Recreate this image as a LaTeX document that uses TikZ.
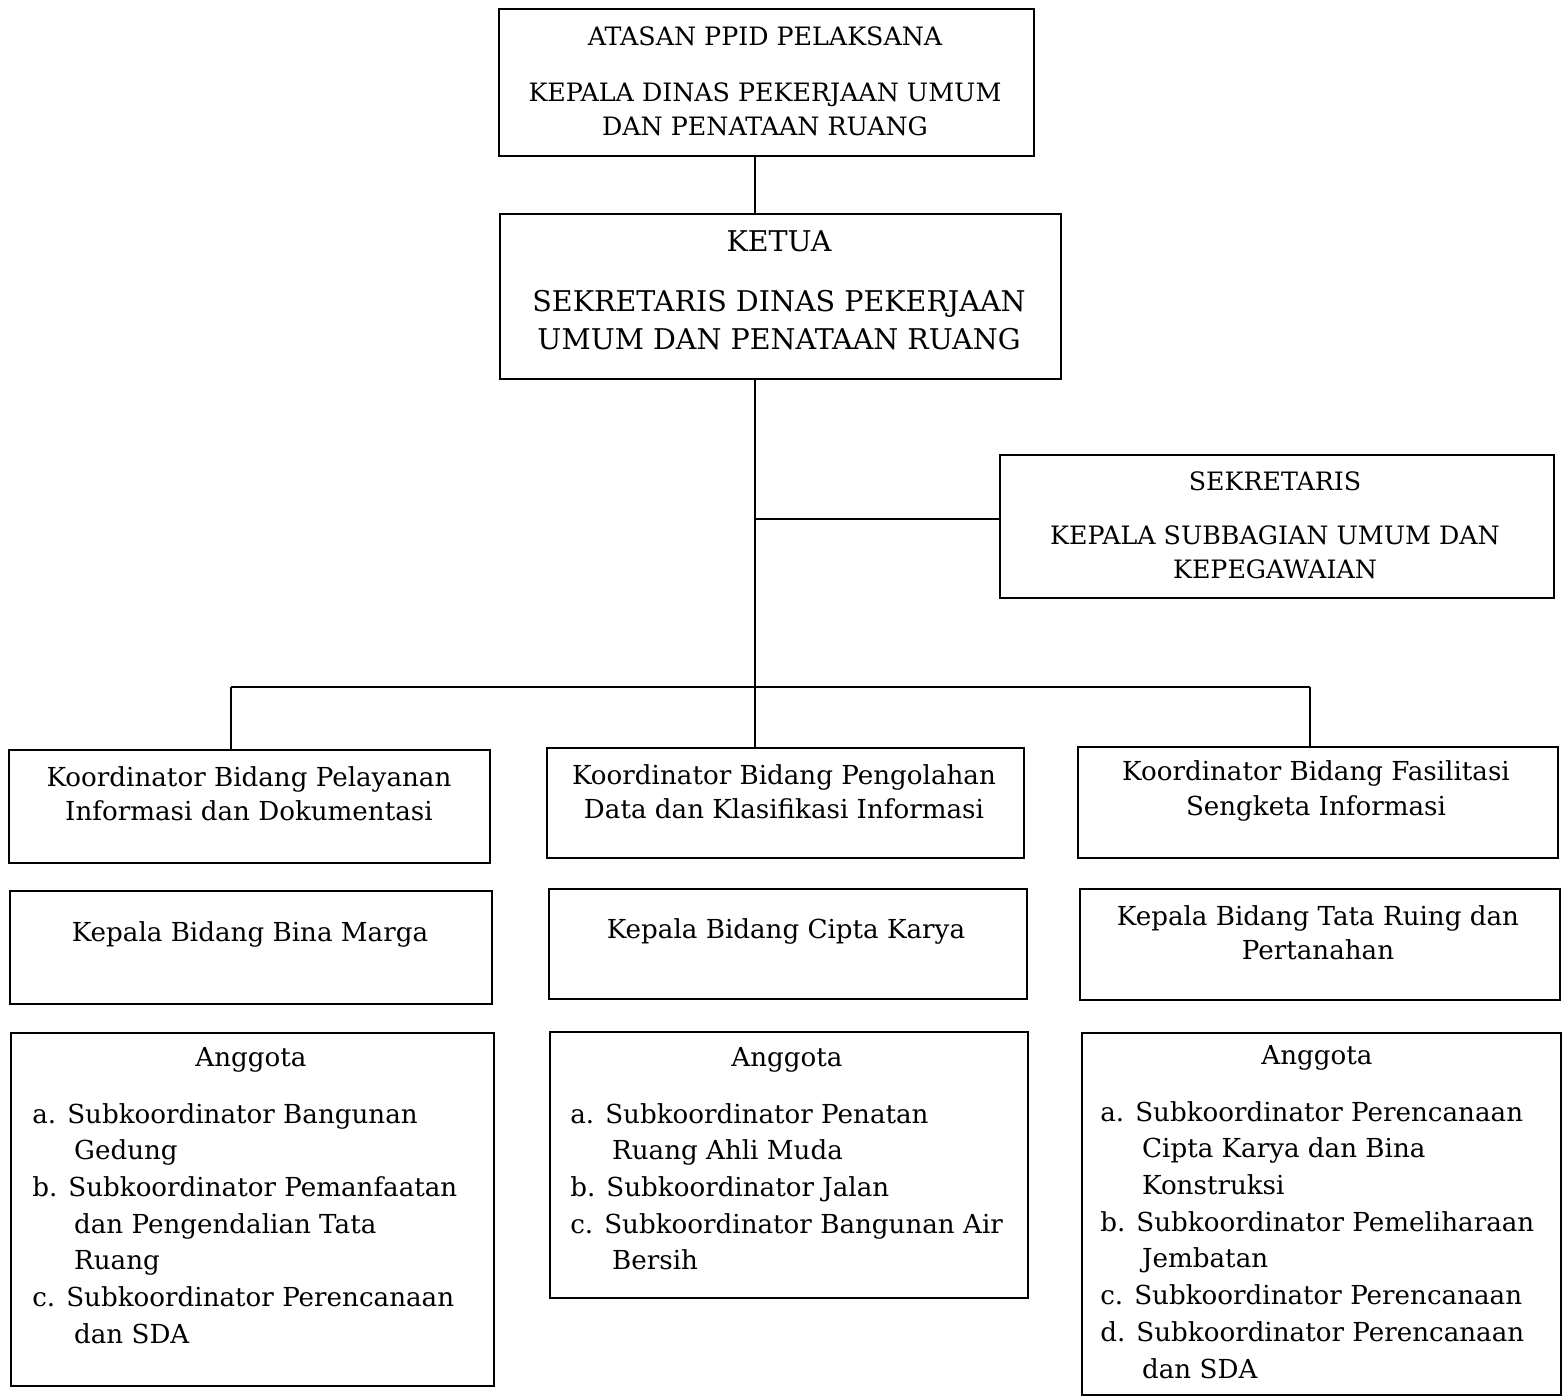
\documentclass[tikz,border=0pt]{standalone}
\usepackage{fontspec}
\setmainfont{DejaVu Serif}
\usetikzlibrary{positioning}

\tikzset{
  orgbox/.style 2 args={draw, line width=1.2pt, minimum width=#1, minimum height=#2, anchor=north west, inner sep=0pt},
  captxt/.style={align=center, font=\fontsize{18}{24}\selectfont, inner sep=0pt},
  txt/.style={align=center, font=\fontsize{18.6}{24.5}\selectfont, inner sep=0pt},
  bigtxt/.style={align=center, font=\fontsize{20.3}{27}\selectfont, inner sep=0pt},
  listtxt/.style={align=left, anchor=north west, font=\fontsize{18.6}{26.1}\selectfont, inner sep=0pt},
  link/.style={line width=1.2pt}
}
\newcommand{\contind}{\hspace*{1.6em}}

\begin{document}
\begin{tikzpicture}[x=0.025cm,y=-0.025cm]
      \useasboundingbox (0,0) rectangle (1564,1397);
      % boxes
      \node[orgbox={13.375cm}{3.675cm}] (atasan) at (498,8) {};
      \node[orgbox={14.025cm}{4.125cm}] (ketua) at (499,213) {};
      \node[orgbox={13.85cm}{3.575cm}] (sek) at (999,454) {};
      \node[orgbox={12.025cm}{2.825cm}] (koor1) at (8,749) {};
      \node[orgbox={11.925cm}{2.75cm}] (koor2) at (546,747) {};
      \node[orgbox={12.0cm}{2.775cm}] (koor3) at (1077,746) {};
      \node[orgbox={12.05cm}{2.825cm}] (kabid1) at (9,890) {};
      \node[orgbox={11.95cm}{2.75cm}] (kabid2) at (548,888) {};
      \node[orgbox={12.0cm}{2.775cm}] (kabid3) at (1079,888) {};
      \node[orgbox={12.075cm}{8.825cm}] (ang1) at (10,1032) {};
      \node[orgbox={11.95cm}{6.65cm}] (ang2) at (549,1031) {};
      \node[orgbox={11.975cm}{9.05cm}] (ang3) at (1081,1032) {};

      % connectors
      \coordinate (spine) at (755,0);
      \coordinate (sekjoin) at (999,519);
      \coordinate (d1) at (231,687);
      \coordinate (d2) at (755,687);
      \coordinate (d3) at (1310,687);
      \draw[link] (atasan.south -| spine) -- (ketua.north -| spine);
      \draw[link] (ketua.south -| spine) -- (d2);
      \draw[link] (spine |- sekjoin) -- (sekjoin);
      \draw[link] (d1) -- (d3);
      \draw[link] (d1) -- (d1 |- koor1.north);
      \draw[link] (d2) -- (d2 |- koor2.north);
      \draw[link] (d3) -- (d3 |- koor3.north);

      % texts
      \node[captxt] (atasanT1) at (765,36) {ATASAN PPID PELAKSANA};
      \node[captxt] (atasanT2) at (765,109) {KEPALA DINAS PEKERJAAN UMUM\\DAN PENATAAN RUANG};
      \node[bigtxt] (ketuaT1) at (779,241) {KETUA};
      \node[bigtxt] (ketuaT2) at (779,320) {SEKRETARIS DINAS PEKERJAAN\\UMUM DAN PENATAAN RUANG};
      \node[captxt] (sekT1) at (1275,481) {SEKRETARIS};
      \node[captxt] (sekT2) at (1275,552) {KEPALA SUBBAGIAN UMUM DAN\\KEPEGAWAIAN};
      \node[txt] (koor1T) at (249,794) {Koordinator Bidang Pelayanan\\Informasi dan Dokumentasi};
      \node[txt] (koor2T) at (784,792) {Koordinator Bidang Pengolahan\\Data dan Klasifikasi Informasi};
      \node[txt] (koor3T) at (1316,791) {Koordinator Bidang Fasilitasi\\Sengketa Informasi};
      \node[txt] (kabid1T) at (250,934) {Kepala Bidang Bina Marga};
      \node[txt] (kabid2T) at (786,931) {Kepala Bidang Cipta Karya};
      \node[txt] (kabid3T) at (1318,933) {Kepala Bidang Tata Ruing dan\\Pertanahan};
      \node[txt] (ang1T) at (251,1060) {Anggota};
      \node[txt] (ang2T) at (787,1060) {Anggota};
      \node[txt] (ang3T) at (1317,1058) {Anggota};
      \node[listtxt] (ang1L) at (32,1103) {a. Subkoordinator Bangunan\\\contind Gedung\\b. Subkoordinator Pemanfaatan\\\contind dan Pengendalian Tata\\\contind Ruang\\c. Subkoordinator Perencanaan\\\contind dan SDA};
      \node[listtxt] (ang2L) at (570,1103) {a. Subkoordinator Penatan\\\contind Ruang Ahli Muda\\b. Subkoordinator Jalan\\c. Subkoordinator Bangunan Air\\\contind Bersih};
      \node[listtxt] (ang3L) at (1100,1101) {a. Subkoordinator Perencanaan\\\contind Cipta Karya dan Bina\\\contind Konstruksi\\b. Subkoordinator Pemeliharaan\\\contind Jembatan\\c. Subkoordinator Perencanaan\\d. Subkoordinator Perencanaan\\\contind dan SDA};
    \end{tikzpicture}
\end{document}
